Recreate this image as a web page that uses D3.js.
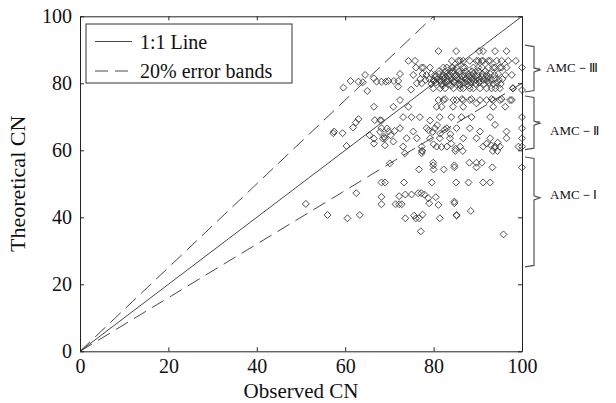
<!DOCTYPE html>
<html><head><meta charset="utf-8">
<script src="https://cdn.jsdelivr.net/npm/d3@7"></script>
<style>body{margin:0;background:#fff}svg{display:block}text{font-family:"Liberation Serif","Times New Roman",serif;fill:#111}</style>
</head><body><svg id="c" width="616" height="403"></svg>
<script>
const xTicks = [0,20,40,60,80,100];
const yTicks = [0,20,40,60,80,100];
const legendLabels = ["1:1 Line","20% error bands"];
const bandFactors = [1.25, 0.8];
const amcLabels = ["AMC－Ⅲ","AMC－Ⅱ","AMC－Ⅰ"];
const amcHigh = [91.4, 76.2, 58.0];
const amcLow = [77.4, 60.2, 25.2];
const amcMid = [84.0, 68.1, 45.8];
const amcLabelY = [83.5, 64.5, 45.5];
const observed = [
59.6,61.2,63.0,64.5,64.0,66.5,67.1,68.2,69.2,65.0,66.5,63.0,62.4,61.8,57.3,59.4,60.3,66.7,67.9,65.5,66.5,67.9,68.5,69.0,66.5,57.5,
70.9,72.0,74.9,72.4,69.8,71.0,72.0,
81.1,85.1,90.3,91.2,93.9,96.5,
74.3,75.8,84.1,85.6,86.0,86.7,88.2,89.7,90.1,90.9,91.2,92.4,92.8,94.3,95.4,96.9,98.6,
76.0,77.3,77.7,79.2,82.2,83.0,84.1,84.3,85.2,86.7,87.1,89.0,90.1,90.9,92.4,93.5,93.9,95.0,95.4,96.5,100,
72.4,75.4,77.5,78.4,79.5,80.3,81.2,82.2,83.0,83.8,84.5,85.2,86.0,86.9,87.8,88.5,89.0,90.0,91.0,92.0,92.8,93.8,94.6,96.2,97.7,
77.0,78.2,79.0,80.0,80.8,81.5,82.3,83.1,84.0,84.8,85.5,86.3,87.2,88.0,88.8,89.6,90.4,91.3,92.1,93.0,93.9,94.8,95.6,
76.2,77.3,79.5,80.5,81.8,82.6,83.4,84.6,85.9,86.8,87.6,88.4,89.5,90.3,91.4,92.6,93.5,94.3,95.2,
79.9,81.5,82.6,84.5,86.0,86.7,88.2,89.0,90.5,92.0,93.1,94.0,95.0,97.9,98.0,100,
81.1,82.2,82.6,84.5,85.2,86.4,86.7,88.2,88.6,90.5,92.0,93.1,93.5,95.0,95.4,97.3,97.7,
74.3,80.7,81.8,84.4,86.7,89.7,93.5,96.2,
68.2,73.1,75.0,76.9,79.2,81.4,84.0,86.3,88.6,92.8,100,
68.2,69.8,72.4,75.4,78.4,80.3,83.0,85.2,88.2,90.5,93.9,96.5,100,
79.8,80.8,81.5,82.5,83.8,78.9,68.8,69.5,70.3,71.2,
69.0,70.9,73.9,76.2,79.2,81.4,83.7,86.7,89.7,92.8,96.5,100,
73.1,77.3,80.7,83.0,86.0,91.2,93.9,95.0,99.2,100,
92.0,93.0,94.5,93.8,80.0,81.8,84.0,85.0,
73.5,77.3,77.4,84.9,86.6,93.4,94.4,
51.1,56.0,60.5,63.3,62.5,68.2,69.0,68.2,68.2,71.4,72.2,72.8,72.2,73.6,75.0,73.3,70.1,76.7,77.4,73.6,75.6,76.0,76.7,77.5,77.1,76.5,77.2,77.9,78.8,79.0,81.1,80.5,79.6,79.9,79.9,80.0,81.4,82.3,84.7,84.7,84.7,84.7,85.1,85.2,85.2,87.9,88.1,89.7,90.9,89.7,88.4,91.2,92.8,93.3,95.8,100,
80.4,81.9,83.4,84.9,86.4,87.9,89.4,90.9,92.4,81.2,82.7,84.2,85.7,87.2,88.7,90.2,91.7,80.1,81.6,83.1,84.6,86.1,87.6,89.1,90.6,92.1,82.0,84.0,86.0,88.0
];
const theoretical = [
78.7,80.7,80.5,82.5,80.3,81.5,80.5,80.5,80.5,77.7,73.0,69.3,68.3,66.8,65.1,65.1,61.3,69.0,69.0,64.5,63.5,65.5,63.5,61.5,62.0,65.6,
73.0,79.0,78.1,75.0,80.7,80.7,80.7,
89.6,89.6,89.6,89.6,89.6,89.6,
86.7,86.7,86.7,86.7,86.7,86.7,86.7,86.7,86.7,86.7,86.7,86.7,86.7,86.7,86.7,86.7,86.7,
84.7,84.7,84.7,84.7,84.7,84.7,84.7,84.7,84.7,84.7,84.7,84.7,84.7,84.7,84.7,84.7,84.7,84.7,84.7,84.7,84.7,
82.8,82.5,82.8,82.5,82.8,82.5,82.8,82.5,82.8,82.5,82.8,82.5,82.8,82.5,82.8,82.5,82.8,82.5,82.8,82.5,82.8,82.5,82.8,82.5,82.5,
81.3,81.0,81.3,81.0,81.3,81.0,81.3,81.0,81.3,81.0,81.3,81.0,81.3,81.0,81.3,81.0,81.3,81.0,81.3,81.0,81.3,81.0,81.3,
80.0,80.0,79.8,80.2,79.8,80.2,79.8,80.2,79.8,80.2,79.8,80.2,79.8,80.2,79.8,80.2,79.8,80.2,79.8,
78.5,78.5,78.5,78.5,78.5,78.5,78.5,78.5,78.5,78.5,78.5,78.5,78.5,78.5,78.5,78.0,
75.0,75.0,75.3,75.0,75.0,75.3,75.0,75.0,75.3,75.0,75.0,75.3,75.0,75.0,75.3,75.0,75.0,
73.0,73.0,73.0,73.0,73.0,74.0,73.0,73.0,
68.9,69.9,69.9,69.9,68.9,69.9,69.9,69.9,69.9,69.9,69.9,
66.6,65.6,66.6,65.6,66.6,66.6,66.6,66.6,66.6,65.6,67.6,65.6,66.6,
65.5,67.5,65.0,66.2,64.8,66.0,64.0,66.5,64.5,65.8,
63.6,62.6,63.6,63.6,63.6,63.6,63.6,63.6,63.6,63.6,63.6,63.6,
61.1,61.1,61.1,61.1,61.1,61.1,61.1,61.1,61.1,61.1,
62.0,61.5,62.3,60.8,61.8,61.0,62.0,60.5,
59.1,59.1,59.8,59.8,59.8,59.8,59.8,
44.0,40.7,39.7,40.7,47.2,50.4,50.4,46.1,43.9,43.9,43.9,43.9,46.3,46.8,46.8,50.4,56.1,54.3,59.8,39.7,40.5,39.7,39.7,40.8,35.8,47.2,47.2,46.8,45.7,44.2,43.7,46.0,50.4,56.3,55.5,54.3,39.7,54.3,54.9,55.5,44.7,44.2,50.4,40.7,40.5,50.4,56.3,56.3,56.3,54.9,41.9,50.4,50.4,54.9,34.9,54.9,
82.0,82.0,82.0,82.0,82.0,82.0,82.0,82.0,82.0,83.6,83.6,83.6,83.6,83.6,83.6,83.6,83.6,80.6,80.6,80.6,80.6,80.6,80.6,80.6,80.6,80.6,79.3,79.3,79.3,79.3
];

const svg = d3.select("#c");
const W = 616, H = 403;
const m = {left:80, right:94, top:16.3, bottom:51.7};
const x = d3.scaleLinear().domain([0,100]).range([m.left, W-m.right]);
const y = d3.scaleLinear().domain([0,100]).range([H-m.bottom, m.top]);
const ink = "#222";

svg.append("clipPath").attr("id","clp").append("rect")
  .attr("x",x(0)).attr("y",y(100)).attr("width",x(100)-x(0)).attr("height",y(0)-y(100));

// reference lines
const line = d3.line().x(d=>x(d[0])).y(d=>y(d[1]));
const g = svg.append("g").attr("clip-path","url(#clp)");
g.append("path").datum([[0,0],[100,100]]).attr("d",line).attr("fill","none").attr("stroke","#333").attr("stroke-width",0.9);
bandFactors.forEach(f=>{
  g.append("path").datum([[0,0],[100,100*f]]).attr("d",line).attr("fill","none")
   .attr("stroke","#333").attr("stroke-width",0.9).attr("stroke-dasharray","14,7");
});

// points
const pts = observed.map((v,i)=>[v, theoretical[i]]);
const sym = d3.symbol(d3.symbolSquare, 24);
svg.append("g").selectAll("path").data(pts).join("path")
  .attr("d", sym)
  .attr("transform", d=>`translate(${x(d[0])},${y(d[1])}) rotate(45)`)
  .attr("fill","none").attr("stroke","#333").attr("stroke-width",0.8);

// axes
const fs = "20px";
const ax = svg.append("g").attr("transform",`translate(0,${y(0)})`)
  .call(d3.axisBottom(x).tickValues(xTicks).tickSizeInner(-4).tickSizeOuter(0).tickPadding(8));
const ay = svg.append("g").attr("transform",`translate(${x(0)},0)`)
  .call(d3.axisLeft(y).tickValues(yTicks).tickSizeInner(-4).tickSizeOuter(0).tickPadding(8));
const at = svg.append("g").attr("transform",`translate(0,${y(100)})`)
  .call(d3.axisTop(x).tickValues(xTicks).tickSizeInner(-4).tickSizeOuter(0).tickFormat(""));
const ar = svg.append("g").attr("transform",`translate(${x(100)},0)`)
  .call(d3.axisRight(y).tickValues(yTicks).tickSizeInner(-4).tickSizeOuter(0).tickFormat(""));
[ax,ay,at,ar].forEach(a=>{
  a.selectAll(".domain").attr("stroke",ink);
  a.selectAll(".tick line").attr("stroke",ink);
  a.selectAll("text").attr("font-size",fs).attr("font-family","Liberation Serif").attr("fill","#111");
});

svg.append("text").attr("x",(x(0)+x(100))/2).attr("y",398).attr("text-anchor","middle")
  .attr("font-size","21px").text("Observed CN");
svg.append("text").attr("transform",`translate(25,${(y(0)+y(100))/2}) rotate(-90)`)
  .attr("text-anchor","middle").attr("font-size","22px").text("Theoretical CN");

// legend
const lg = svg.append("g");
lg.append("rect").attr("x",86).attr("y",24).attr("width",206).attr("height",59)
  .attr("fill","#fff").attr("stroke","#333").attr("stroke-width",1);
legendLabels.forEach((t,i)=>{
  const yy = 41.5 + i*29.5;
  lg.append("line").attr("x1",95).attr("x2",132).attr("y1",yy).attr("y2",yy)
    .attr("stroke","#333").attr("stroke-width",0.9).attr("stroke-dasharray", i? "13,7":null);
  lg.append("text").attr("x",140).attr("y",yy+7).attr("font-size","20px").text(t);
});

// braces
const bx = x(100)+12;
amcLabels.forEach((t,i)=>{
  const y1 = y(amcHigh[i]), y2 = y(amcLow[i]), ym = y(amcMid[i]);
  const p = `M${bx-9},${y1} L${bx},${y1+1.5} L${bx},${ym-2} L${bx+6},${ym} L${bx},${ym+2} L${bx},${y2-1.5} L${bx-9},${y2}`;
  svg.append("path").attr("d",p).attr("fill","none").attr("stroke","#555").attr("stroke-width",1.2);
  if (i < 2) {
    svg.append("path").attr("d",`M${bx},${ym-1.5} L${bx+6},${ym-1.5}`).attr("stroke","#555").attr("stroke-width",0.8);
  }
  svg.append("text").attr("x",bx+12 + (i?4:0)).attr("y",y(amcLabelY[i])).attr("font-size","13px")
    .attr("font-family","Liberation Serif, DejaVu Serif, serif").text(t);
});
</script></body></html>
